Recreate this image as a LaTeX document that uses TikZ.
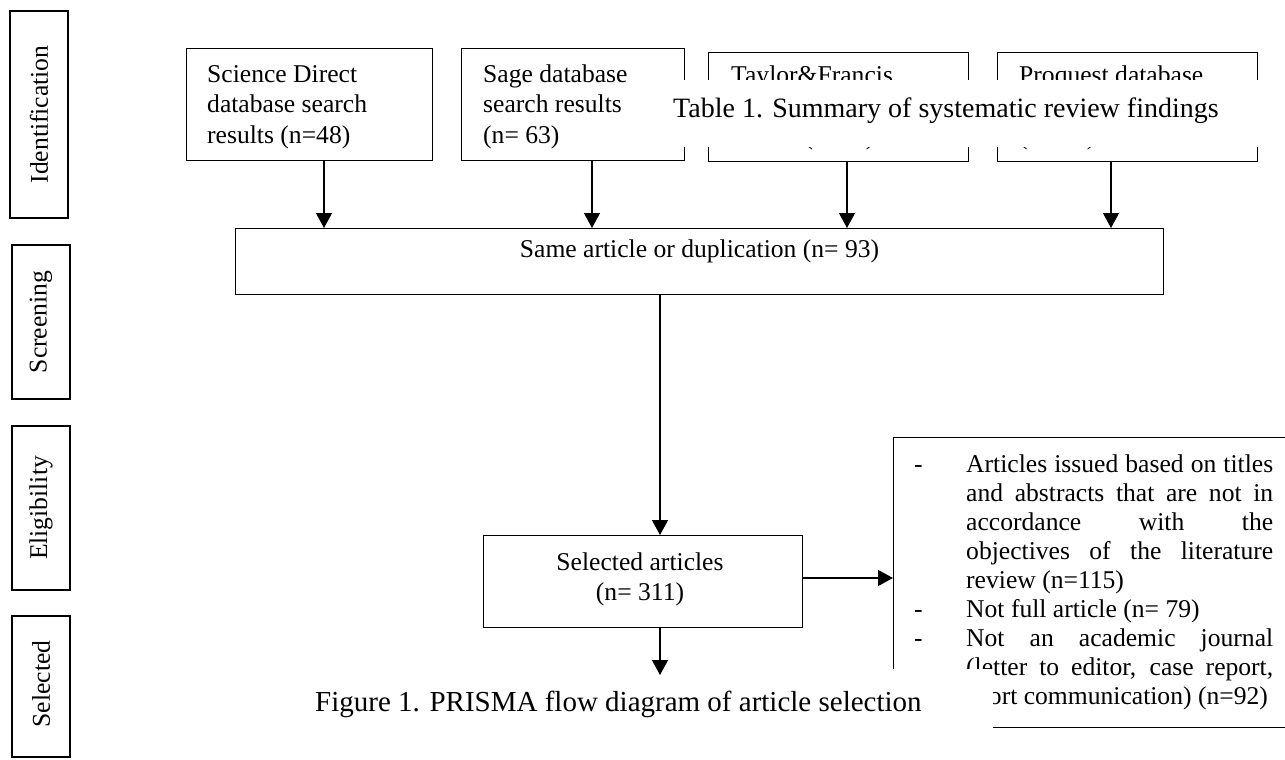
\documentclass[tikz,border=0pt]{standalone}
\usepackage{fontspec}
\setmainfont{Liberation Serif}
\usetikzlibrary{arrows.meta}
\tikzset{
  boxnode/.style={draw=black, line width=1.3pt, inner sep=0pt, anchor=north west},
  stagebox/.style={draw=black, line width=1.3pt},
  stagelbl/.style={font=\fontsize{25.6}{30}\selectfont, inner sep=0pt, rotate=90},
  txt/.style={font=\fontsize{25.6}{30}\selectfont, inner sep=0pt, anchor=base west},
  ctxt/.style={font=\fontsize{25.6}{30}\selectfont, inner sep=0pt, anchor=base},
  conn/.style={line width=1.3pt, -{Triangle[width=16pt,length=15pt]}},
  mask/.style={fill=white, draw=none},
  captxt/.style={inner sep=0pt, anchor=base west}
}
\begin{document}
\begin{tikzpicture}[x=1pt,y=-1pt]
\useasboundingbox (0,0) rectangle (1285,760);
\clip (0,0) rectangle (1285,760);

% stage boxes
\draw[stagebox] (10,11) rectangle (68,218);
\node[stagelbl] (sId) at (39,114.5) {Identification};
\draw[stagebox] (12,245) rectangle (70,399);
\node[stagelbl] (sSc) at (41,322) {Screening};
\draw[stagebox] (12,426) rectangle (70,590);
\node[stagelbl] (sEl) at (41,508) {Eligibility};
\draw[stagebox] (12,616) rectangle (70,757);
\node[stagelbl] (sSe) at (41,684) {Selected};

% top boxes
\node[boxnode, minimum width=246pt, minimum height=112pt] (sd) at (186,48) {};
\node[boxnode, minimum width=223pt, minimum height=112pt] (sg) at (461,48) {};
\node[boxnode, minimum width=260pt, minimum height=109pt] (tf) at (708,52) {};
\node[boxnode, minimum width=260pt, minimum height=109pt] (pq) at (997,52) {};

\node[txt] (sd1) at (207,82) {Science Direct};
\node[txt] (sd2) at (207,112) {database search};
\node[txt] (sd3) at (207,143) {results (n=48)};
\node[txt] (sg1) at (483,82) {Sage database};
\node[txt] (sg2) at (483,112) {search results};
\node[txt] (sg3) at (483,143) {(n= 63)};
\node[txt] (tf1) at (731,84) {Taylor\&Francis};
\node[txt] (tf3) at (731,144) {results (n=\phantom{00})};
\node[txt] (pq1) at (1019,84) {Proquest database};
\node[txt] (pq3) at (1019,144) {(n=\phantom{\ 00})};

% screening box
\node[boxnode, minimum width=928.4pt, minimum height=66pt] (dup) at (234.6,228) {};
\node[ctxt] (dupt) at (699.5,257) {Same article or duplication (n= 93)};

\coordinate (x1) at (324,0);
\coordinate (x2) at (592,0);
\coordinate (x3) at (847,0);
\coordinate (x4) at (1111,0);
\draw[conn] (sd.south -| x1) -- (dup.north -| x1);
\draw[conn] (sg.south -| x2) -- (dup.north -| x2);
\draw[conn] (tf.south -| x3) -- (dup.north -| x3);
\draw[conn] (pq.south -| x4) -- (dup.north -| x4);

% selected articles
\node[boxnode, minimum width=319pt, minimum height=92pt] (sel) at (483,535) {};
\node[ctxt] (sel1) at (640,570) {Selected articles};
\node[ctxt] (sel2) at (640,600) {(n= 311)};
\coordinate (x5) at (660,0);
\draw[conn] (dup.south -| x5) -- (sel.north -| x5);

% excluded box
\node[boxnode, minimum width=420pt, minimum height=290pt] (exc) at (893,437) {};
\coordinate (y1) at (0,578);
\draw[conn] (sel.east |- y1) -- (exc.west |- y1);

\node[txt] (dA) at (914,472) {-};
\node[txt] (dB) at (914,617) {-};
\node[txt] (dC) at (914,646) {-};
\node[txt] (e1) at (966,472) {\makebox[307pt][s]{Articles issued based on titles}};
\node[txt] (e2) at (966,501) {\makebox[307pt][s]{and abstracts that are not in}};
\node[txt] (e3) at (966,530) {\makebox[307pt][s]{accordance with the}};
\node[txt] (e4) at (966,559) {\makebox[307pt][s]{objectives of the literature}};
\node[txt] (e5) at (966,588) {review (n=115)};
\node[txt] (e6) at (966,617) {Not full article (n= 79)};
\node[txt] (e7) at (966,646) {\makebox[307pt][s]{Not an academic journal}};
\node[txt] (e8) at (966,675) {\makebox[307pt][s]{(letter to editor, case report,}};
\node[txt] (e9) at (966,704) {short communication) (n=92)};

% caption overlays
\fill[mask] (668,80) rectangle (1285,147);
\node[captxt, font=\fontsize{28}{32}\selectfont] (tcap) at (673,117) {Table 1. Summary of systematic review findings};
\fill[mask] (305,669) rectangle (993,745);
\node[captxt, font=\fontsize{29}{33}\selectfont] (fcap) at (315,711) {Figure 1. PRISMA flow diagram of article selection};

% bottom arrow
\coordinate (eb) at (660,675);
\draw[conn] (sel.south -| x5) -- (eb);
\end{tikzpicture}
\end{document}
